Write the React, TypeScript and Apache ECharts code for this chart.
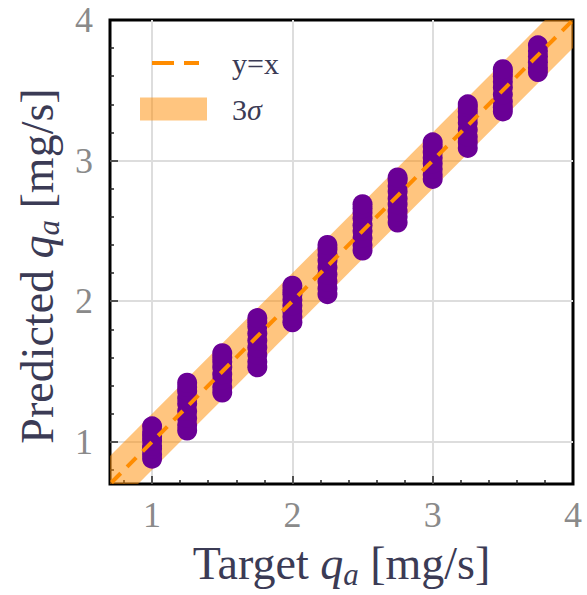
import React, { useEffect, useRef } from "react";
import * as echarts from "echarts";

// ---- data ----
const targets = [1.0, 1.25, 1.5, 1.75, 2.0, 2.25, 2.5, 2.75, 3.0, 3.25, 3.5, 3.75];
const predicted: number[][] = [
  [0.88, 0.91, 0.95, 0.97, 1.01, 1.04, 1.07, 1.11],
  [1.08, 1.12, 1.17, 1.22, 1.27, 1.31, 1.36, 1.39, 1.42],
  [1.35, 1.39, 1.44, 1.48, 1.53, 1.57, 1.6, 1.63],
  [1.53, 1.57, 1.62, 1.67, 1.72, 1.77, 1.82, 1.85, 1.88],
  [1.85, 1.89, 1.93, 1.97, 2.01, 2.05, 2.08, 2.11],
  [2.05, 2.09, 2.14, 2.19, 2.24, 2.29, 2.33, 2.37, 2.4],
  [2.36, 2.4, 2.45, 2.5, 2.54, 2.59, 2.63, 2.66, 2.69],
  [2.56, 2.6, 2.64, 2.69, 2.73, 2.78, 2.82, 2.86, 2.88],
  [2.87, 2.9, 2.94, 2.98, 3.02, 3.06, 3.1, 3.13],
  [3.09, 3.13, 3.17, 3.22, 3.27, 3.31, 3.35, 3.38, 3.4],
  [3.35, 3.38, 3.42, 3.47, 3.52, 3.56, 3.6, 3.63, 3.65],
  [3.63, 3.66, 3.7, 3.74, 3.78, 3.82],
];
const identityX = [0.6, 4.1];
const identityY = [0.6, 4.1];
const bandX = [0.5, 4.2];
const bandLow = [0.3, 4.0];
const bandHigh = [0.7, 4.4];
const majorTicks = [1, 2, 3];
const tickLabels = [1, 2, 3, 4];
const minorTicks = [0.8, 1.2, 1.4, 1.6, 1.8, 2.2, 2.4, 2.6, 2.8, 3.2, 3.4, 3.6, 3.8];
const axisMin = 0.7;
const axisMax = 4;

const FONT = "'Liberation Serif', 'DejaVu Serif', serif";
const TITLE_COLOR = "#3b3b55";
const TICK_COLOR = "#8a8a8a";
const PURPLE = "#6a0096";
const ORANGE = "#ff8c00";
const BAND = "rgba(255,140,0,0.5)";

const titleRich = {
  n: { fontSize: 46, fontFamily: FONT, color: TITLE_COLOR, lineHeight: 46, verticalAlign: "top" },
  i: { fontSize: 46, fontFamily: FONT, fontStyle: "italic", color: TITLE_COLOR, lineHeight: 46, verticalAlign: "top" },
  s: { fontSize: 31, fontFamily: FONT, fontStyle: "italic", color: TITLE_COLOR, lineHeight: 31, verticalAlign: "top", padding: [19, 0, 0, 0] },
};

function mainAxis(name: string, nameGap: number, labelMargin: number, namePadding: number[]) {
  return {
    type: "value",
    min: axisMin,
    max: axisMax,
    axisLine: { show: false },
    axisTick: { show: true, inside: true, length: 8, customValues: majorTicks, lineStyle: { color: "#222", width: 1.5 } },
    axisLabel: { customValues: tickLabels, margin: labelMargin, fontSize: 36, fontFamily: FONT, color: TICK_COLOR },
    splitLine: { show: true, lineStyle: { color: "#dddddd", width: 2 } },
    name,
    nameLocation: "middle",
    nameGap,
    nameTextStyle: { fontFamily: FONT, rich: titleRich, padding: namePadding },
  };
}

function minorAxis() {
  return {
    type: "value",
    min: axisMin,
    max: axisMax,
    axisLine: { show: false },
    axisTick: { show: true, inside: true, length: 4, customValues: minorTicks, lineStyle: { color: "#222", width: 1.5 } },
    axisLabel: { show: false },
    splitLine: { show: false },
  };
}

export default function App() {
  const ref = useRef<HTMLDivElement>(null);
  useEffect(() => {
    if (!ref.current) return;
    const chart = echarts.init(ref.current, null, { renderer: "svg" });
    const scatterData: number[][] = [];
    targets.forEach((t, i) => predicted[i].forEach((p) => scatterData.push([t, p])));
    const bandData = bandX.map((x, i) => [x, bandLow[i], bandHigh[i]]);
    const lineData = identityX.map((x, i) => [x, identityY[i]]);

    chart.setOption({
      animation: false,
      textStyle: { fontFamily: FONT },
      grid: { left: 110, top: 20, width: 463, height: 464, show: true, borderColor: "#000", borderWidth: 3, backgroundColor: "transparent" },
      xAxis: [
        { ...mainAxis("{n|Target }{i|q}{s|a}{n| [mg/s]}", 56, 13, [0, 0, 0, 0]), position: "bottom" },
        { ...minorAxis(), position: "bottom" },
      ],
      yAxis: [
        { ...mainAxis("{n|Predicted }{i|q}{s|a}{n| [mg/s]}", 46, 17, [0, 28, 0, 0]), position: "left" },
        { ...minorAxis(), position: "left" },
      ],
      legend: [
        {
          data: ["y=x"],
          left: 150,
          top: 46,
          padding: 0,
          itemWidth: 47,
          itemHeight: 14,
          selectedMode: false,
          itemStyle: { opacity: 0 },
          lineStyle: { type: [22, 10], width: 4, color: ORANGE },
          textStyle: { fontSize: 30, fontFamily: FONT, color: TITLE_COLOR, lineHeight: 34, padding: [0, 0, 0, 28] },
        },
        {
          data: [{ name: "3σ", icon: "rect" }],
          left: 140,
          top: 92,
          padding: 0,
          itemWidth: 67,
          itemHeight: 23,
          selectedMode: false,
          formatter: () => "{n|3}{i|σ}",
          textStyle: {
            fontSize: 30,
            fontFamily: FONT,
            color: TITLE_COLOR,
            lineHeight: 34,
            padding: [0, 0, 0, 20],
            rich: {
              n: { fontSize: 30, fontFamily: FONT, color: TITLE_COLOR },
              i: { fontSize: 30, fontFamily: FONT, fontStyle: "italic", color: TITLE_COLOR },
            },
          },
        },
      ],
      series: [
        {
          name: "3σ",
          type: "custom",
          xAxisIndex: 0,
          yAxisIndex: 0,
          clip: true,
          z: 1,
          itemStyle: { color: BAND },
          data: bandData,
          renderItem: (params: any, api: any) => {
            if (params.dataIndex !== 0) return null;
            const lower = bandX.map((x, i) => api.coord([x, bandLow[i]]));
            const upper = bandX.map((x, i) => api.coord([x, bandHigh[i]])).reverse();
            const cs = params.coordSys;
            return {
              type: "polygon",
              shape: { points: [...lower, ...upper] },
              style: { fill: BAND },
              clipPath: { type: "rect", shape: { x: cs.x, y: cs.y, width: cs.width, height: cs.height } },
            };
          },
        },
        {
          name: "pred",
          type: "scatter",
          xAxisIndex: 0,
          yAxisIndex: 0,
          symbolSize: 20,
          itemStyle: { color: PURPLE, opacity: 1 },
          z: 3,
          data: scatterData,
        },
        {
          name: "y=x",
          type: "line",
          xAxisIndex: 0,
          yAxisIndex: 0,
          symbol: "none",
          clip: true,
          z: 5,
          lineStyle: { color: ORANGE, width: 4, type: [13, 9] },
          itemStyle: { color: ORANGE },
          data: lineData,
        },
      ],
    });
    return () => chart.dispose();
  }, []);
  return <div ref={ref} style={{ width: 587, height: 595, position: "absolute", left: 0, top: 0 }} />;
}
